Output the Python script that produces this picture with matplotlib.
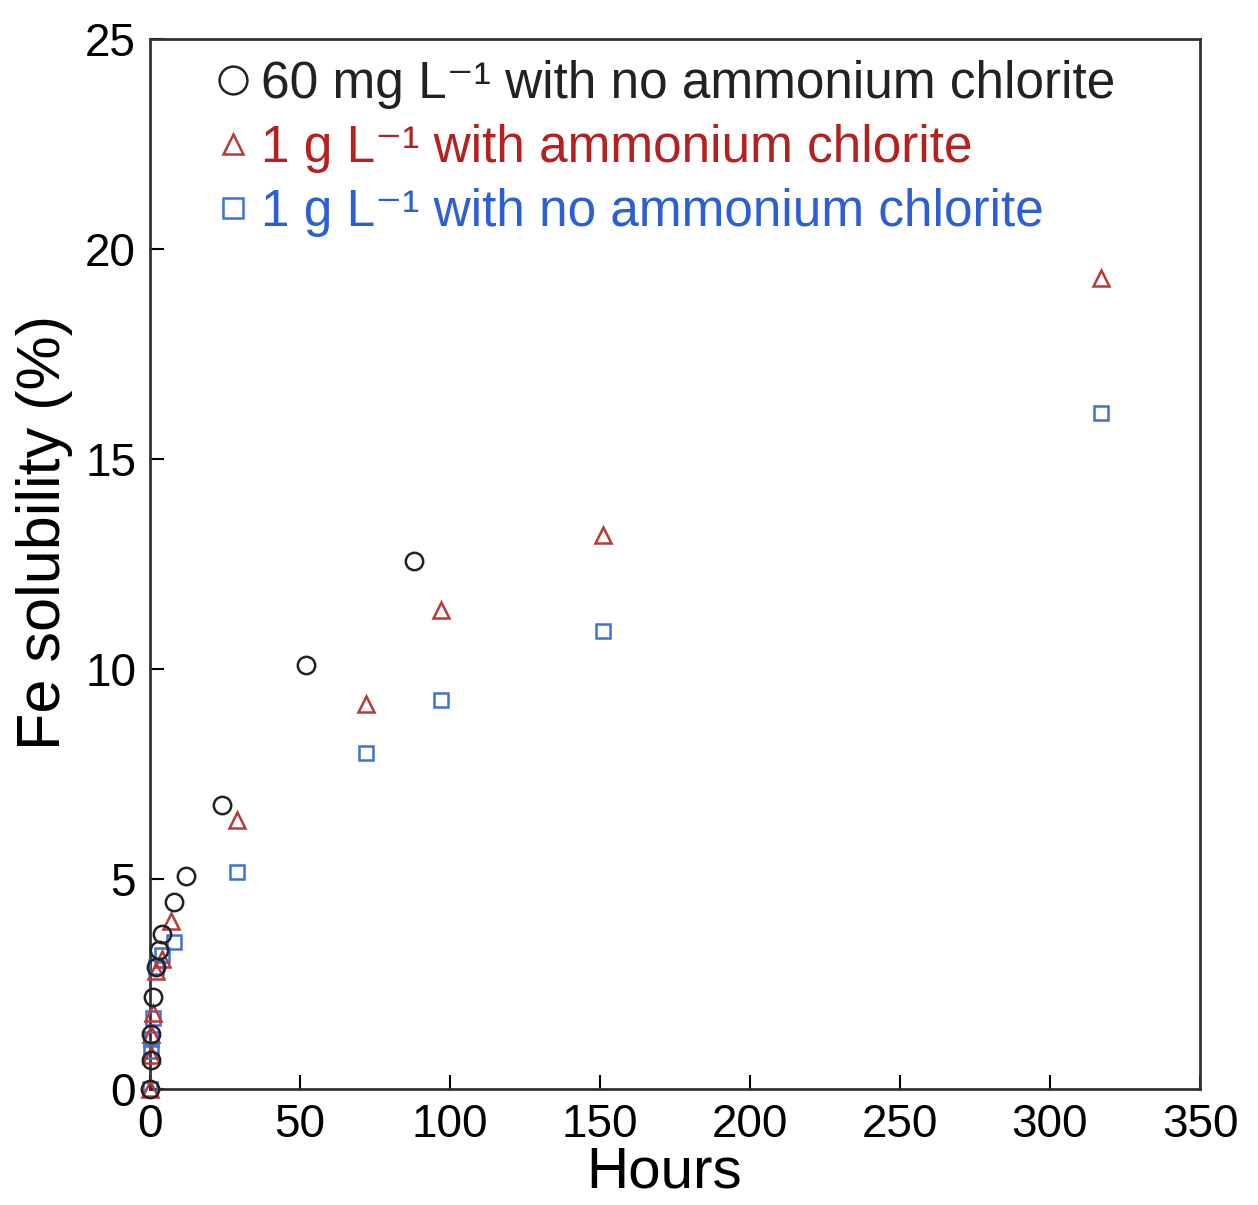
import matplotlib
matplotlib.use("Agg")
import matplotlib.pyplot as plt
from matplotlib.lines import Line2D

plt.rcParams['font.family'] = ['Liberation Sans', 'DejaVu Sans']

circ_x = [0, 0.25, 0.5, 1, 2, 3, 4, 8, 12, 24, 52, 88]
circ_y = [0, 0.7, 1.3, 2.2, 2.9, 3.3, 3.7, 4.45, 5.07, 6.76, 10.1, 12.57]
tri_x = [0, 0.25, 0.5, 1, 2, 4, 7, 29, 72, 97, 151, 317]
tri_y = [0, 0.8, 1.3, 1.8, 2.8, 3.1, 4.0, 6.4, 9.17, 11.4, 13.2, 19.3]
sq_x = [0, 0.25, 0.5, 1, 2, 4, 8, 29, 72, 97, 151, 317]
sq_y = [0, 0.9, 1.2, 1.7, 2.9, 3.2, 3.5, 5.17, 8.0, 9.26, 10.9, 16.1]

labels = ["60 mg L\u207b\u00b9 with no ammonium chlorite",
          "1 g L\u207b\u00b9 with ammonium chlorite",
          "1 g L\u207b\u00b9 with no ammonium chlorite"]
xticks = [0, 50, 100, 150, 200, 250, 300, 350]
yticks = [0, 5, 10, 15, 20, 25]

c_black = '#222222'
c_red = '#b83a3a'
c_blue = '#3f73d0'
t_red = '#b52020'
t_blue = '#2c5fd4'

fig = plt.figure(figsize=(12.58, 12.05), dpi=100)
ax = fig.add_axes([0.1192, 0.0963, 0.8347, 0.8713])

ax.plot(sq_x, sq_y, 's', ms=10, mfc='none', mec=c_blue, mew=1.8, clip_on=False, zorder=3)
ax.plot(tri_x, tri_y, '^', ms=12, mfc='none', mec=c_red, mew=1.8, clip_on=False, zorder=4)
ax.plot(circ_x, circ_y, 'o', ms=12.5, mfc='none', mec=c_black, mew=1.8, clip_on=False, zorder=5)

ax.set_xlim(0, 350)
ax.set_ylim(0, 25)
ax.set_xticks(xticks)
ax.set_yticks(yticks)
ax.tick_params(direction='in', length=10, width=1.5, labelsize=33)
ax.tick_params(axis='y', pad=10)
ax.tick_params(axis='x', pad=10)
for s in ax.spines.values():
    s.set_linewidth(2)
    s.set_color('#333333')

ax.set_xlabel("Hours", fontsize=42)
ax.set_ylabel("Fe solubility (%)", fontsize=44)
ax.xaxis.set_label_coords(0.49, -0.08, transform=ax.transAxes)
ax.yaxis.set_label_coords(-0.1, 0.53, transform=ax.transAxes)
ax.xaxis.label.set_va('center')
ax.yaxis.label.set_va('center')

handles = [
    Line2D([], [], ls='none', marker='o', ms=20, mfc='none', mec=c_black, mew=1.8),
    Line2D([], [], ls='none', marker='^', ms=15, mfc='none', mec=c_red, mew=1.8),
    Line2D([], [], ls='none', marker='s', ms=15, mfc='none', mec=c_blue, mew=1.8),
]
leg = ax.legend(handles, labels, loc='upper left', bbox_to_anchor=(0.045, 1.0),
                frameon=False, fontsize=37, handlelength=0.6, handletextpad=0.25,
                labelspacing=0.3, borderaxespad=0.0,
                labelcolor=[c_black, t_red, t_blue])

fig.savefig("out.png", dpi=100)
